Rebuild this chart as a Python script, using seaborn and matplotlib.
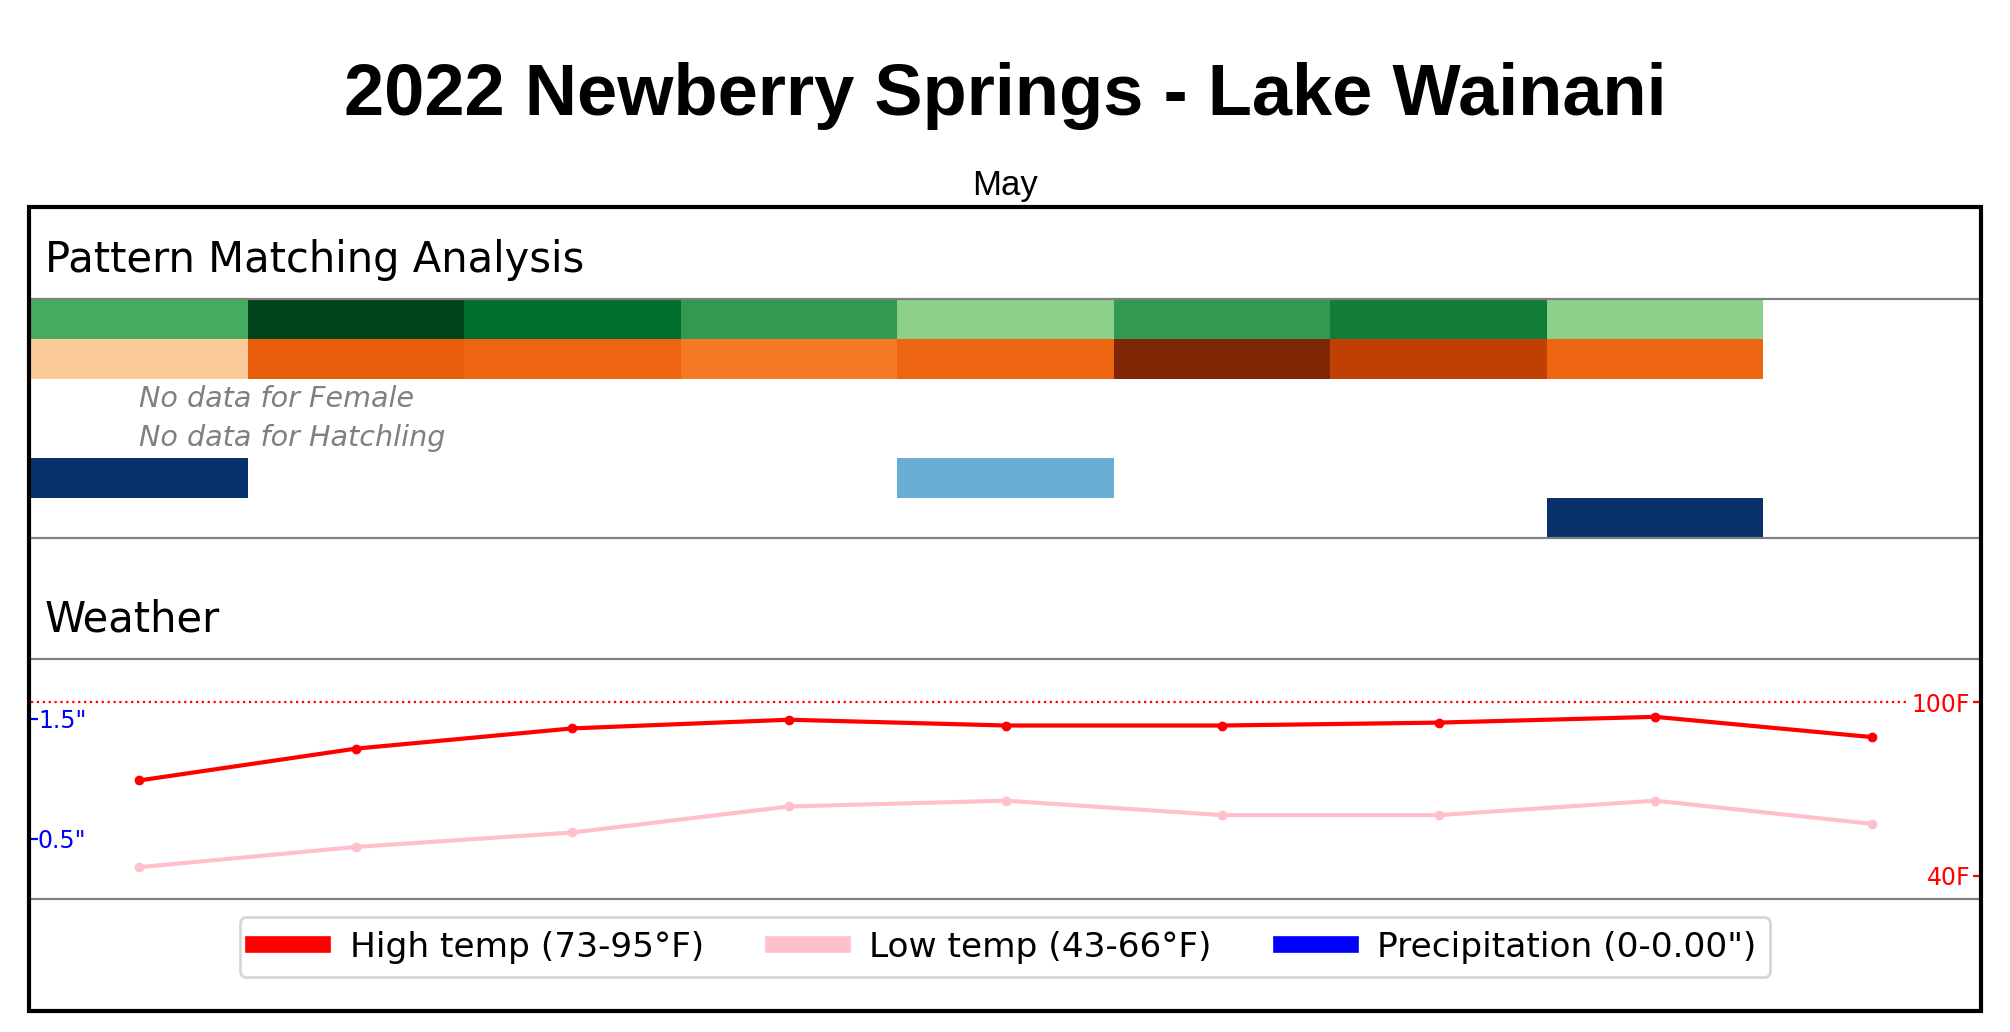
import numpy as np
import matplotlib
matplotlib.use('Agg')
import matplotlib.pyplot as plt
import seaborn as sns
from matplotlib.lines import Line2D
from matplotlib.patches import Rectangle

# Data
title = '2022 Newberry Springs - Lake Wainani'
month = 'May'
n_periods = 9

# pattern matching scores (0-1), NaN = no data
green_row = [0.62, 1.0, 0.87, 0.69, 0.43, 0.69, 0.81, 0.43, np.nan]
orange_row = [0.27, 0.67, 0.64, 0.57, 0.64, 1.0, 0.81, 0.64, np.nan]
female_row = [np.nan] * 9
hatchling_row = [np.nan] * 9
blue_row_1 = [1.0, np.nan, np.nan, np.nan, 0.5, np.nan, np.nan, np.nan, np.nan]
blue_row_2 = [np.nan, np.nan, np.nan, np.nan, np.nan, np.nan, np.nan, 1.0, np.nan]
row_cmaps = ['Greens', 'Oranges', 'Greys', 'Greys', 'Blues', 'Blues']
missing_rows = {2: 'Female', 3: 'Hatchling'}

# weather
high_temp = [73, 84, 91, 94, 92, 92, 93, 95, 88]
low_temp = [43, 50, 55, 64, 66, 61, 61, 66, 58]
precip = [0, 0, 0, 0, 0, 0, 0, 0, 0]

W, H = 2010, 1032
def fx(px):
    return px / W
def fy(py):
    return 1 - py / H

fig = plt.figure(figsize=(W / 200, H / 200), dpi=200)

# outer frame
fig.add_artist(Rectangle((fx(29), fy(1011)), fx(1981) - fx(29), fy(207) - fy(1011),
                         transform=fig.transFigure, fill=False, lw=1.5, ec='black', zorder=10))

fig.text(0.5, fy(115), title, fontsize=26, fontweight='bold', family='Liberation Sans',
         ha='center', va='baseline')
fig.text(0.5, fy(195), month, fontsize=12.5, family='Liberation Sans', ha='center', va='baseline')
fig.text(fx(45), fy(272), 'Pattern Matching Analysis', fontsize=15, va='baseline')
fig.text(fx(45), fy(632), 'Weather', fontsize=15, va='baseline')

# Pattern matching heatmap
ax_p = fig.add_axes([fx(31), fy(538), fx(1980) - fx(31), fy(299) - fy(538)])
grid = np.array([green_row, orange_row, female_row, hatchling_row, blue_row_1, blue_row_2])
for i, cmap in enumerate(row_cmaps):
    if np.all(np.isnan(grid[i])):
        continue
    mask = np.ones_like(grid, dtype=bool)
    mask[i] = False
    mask |= np.isnan(grid)
    sns.heatmap(grid, mask=mask, cmap=cmap, vmin=0, vmax=1, cbar=False, ax=ax_p,
                xticklabels=False, yticklabels=False)
for idx, name in missing_rows.items():
    ax_p.text(0.5, idx + 0.5, f'No data for {name}', fontsize=10.3, style='italic',
              color='gray', ha='left', va='center')
ax_p.set_xlim(0, n_periods)
ax_p.set_xticks([])
ax_p.set_yticks([])
for s in ['top', 'bottom']:
    ax_p.spines[s].set_visible(True)
    ax_p.spines[s].set_color('gray')
    ax_p.spines[s].set_linewidth(0.8)
for s in ['left', 'right']:
    ax_p.spines[s].set_visible(False)

# Weather
ax_w = fig.add_axes([fx(31), fy(899), fx(1980) - fx(31), fy(659) - fy(899)])
x = np.arange(n_periods) + 0.5
ax_w.bar(x, precip, width=0.6, color='blue')
ax_w.set_xlim(0, n_periods)
ax_w.set_ylim(0, 2)
ax_w.set_xticks([])
ax_w.set_yticks([0.5, 1.5])
ax_w.set_yticklabels(['0.5"', '1.5"'])
ax_w.tick_params(axis='y', direction='in', length=2.5, colors='blue', labelsize=8.5, pad=-2.5)
for lbl in ax_w.get_yticklabels():
    lbl.set_ha('left')
for s in ['top', 'bottom']:
    ax_w.spines[s].set_color('gray')
    ax_w.spines[s].set_linewidth(0.8)
for s in ['left', 'right']:
    ax_w.spines[s].set_visible(False)

ax_t = ax_w.twinx()
ax_t.set_ylim(32, 115)
sns.lineplot(x=x, y=high_temp, ax=ax_t, color='red', lw=1.5, marker='o', markersize=3,
             markeredgecolor='red', markeredgewidth=0.5)
sns.lineplot(x=x, y=low_temp, ax=ax_t, color='pink', lw=1.5, marker='o', markersize=3,
             markeredgecolor='pink', markeredgewidth=0.5)
ax_t.axhline(100, color='red', ls=':', lw=0.8, xmax=0.963)
ax_t.set_xlim(0, n_periods)
ax_t.set_yticks([40, 100])
ax_t.set_yticklabels(['40F', '100F'])
ax_t.tick_params(axis='y', direction='in', length=2.5, colors='red', labelsize=8.5, pad=-3.6)
for lbl in ax_t.get_yticklabels():
    lbl.set_ha('right')
for s in ax_t.spines.values():
    s.set_visible(False)

handles = [Line2D([0], [0], color='red', lw=6),
           Line2D([0], [0], color='pink', lw=6),
           Line2D([0], [0], color='blue', lw=6)]
labels = [f'High temp ({min(high_temp)}-{max(high_temp)}°F)',
          f'Low temp ({min(low_temp)}-{max(low_temp)}°F)',
          f'Precipitation ({min(precip)}-{max(precip):.2f}")']
fig.legend(handles, labels, loc='center', bbox_to_anchor=(0.5, fy(947)), ncol=3, fontsize=12.4)

fig.savefig('out.png', dpi=200)
